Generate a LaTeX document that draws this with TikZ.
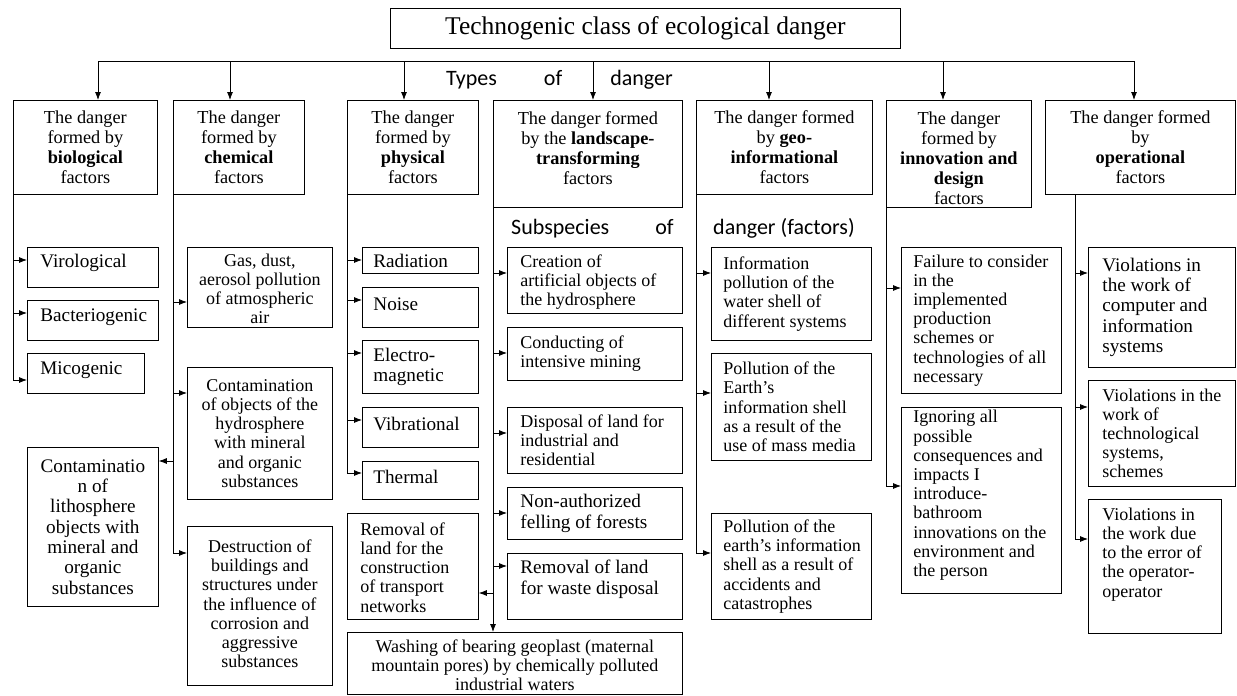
\documentclass[tikz,border=0pt]{standalone}
\usepackage{fontspec}
\setmainfont{Liberation Serif}
\newfontfamily\sansf{Carlito}
\usetikzlibrary{arrows.meta}
\tikzset{
  bx/.style={draw, line width=0.8pt, inner sep=0pt, font=\fontsize{18}{19.2}\selectfont},
  topf/.style={font=\fontsize{18.3}{20}\selectfont},
  bigf/.style={font=\fontsize{19.2}{20.3}\selectfont},
  ln/.style={line width=0.8pt},
  arr/.style={line width=0.8pt, -{Latex[length=8pt,width=6pt]}},
  lbl/.style={inner sep=0pt, font=\sansf\fontsize{22}{24}\selectfont},
}
% [style]{name}{x}{y}{w}{h}{shift down}{content}
\newcommand\bnode[8][]{\node[bx,#1,anchor=north west] (#2) at (#3,#4)
  {\parbox[c][#6pt][c]{#5pt}{\vspace*{2\dimexpr#7pt\relax}#8\par}};}
\newcommand\AlC{\centering}
\newcommand\AlL[1]{\raggedright\leftskip=#1pt\relax}
\begin{document}
\begin{tikzpicture}[x=1pt,y=-1pt]
\useasboundingbox (0,0) rectangle (1237,696);
\fill[white] (0,0) rectangle (1237,696);

% title
\node[bx, minimum width=510pt, minimum height=40pt, anchor=north west,
  font=\fontsize{25.5}{28}\selectfont] (title) at (390,8) {Technogenic class of ecological danger};

% top row
\bnode[topf]{bio}{13}{100}{144}{94}{0}{\AlC The danger\\formed by\\\textbf{biological}\\factors}
\bnode[topf]{chem}{173}{100}{131}{94}{0}{\AlC The danger\\formed by\\\textbf{chemical}\\factors}
\bnode[topf]{phys}{347}{100}{131}{94}{0}{\AlC The danger\\formed by\\\textbf{physical}\\factors}
\bnode[topf]{land}{493}{100}{189}{107}{-5.5}{\AlC The danger formed\\by the \textbf{landscape-}\\\textbf{transforming}\\factors}
\bnode[topf]{geo}{696}{100}{176}{94}{0}{\AlC The danger formed\\by \textbf{geo-}\\\textbf{informational}\\factors}
\bnode[topf]{innov}{886}{100}{145}{107}{4.5}{\AlC The danger\\formed by\\\textbf{innovation and}\\\textbf{design}\\factors}
\bnode[topf]{oper}{1045}{100}{190}{94}{0}{\AlC The danger formed\\by\\\textbf{operational}\\factors}

% labels
\node[lbl, anchor=base west] (types) at (446,85) {Types\hspace*{47pt}of\hspace*{48pt}danger};
\node[lbl, anchor=base west] (sub1) at (511,234) {Subspecies\hspace*{46pt}of};
\node[lbl, anchor=base west] (sub2) at (713,234) {danger (factors)};

% biological
\bnode[bigf]{viro}{27}{247}{131}{40}{-4}{\AlL{13}Virological}
\bnode[bigf]{bact}{27}{300}{131}{40}{-3}{\AlL{13}Bacteriogenic}
\bnode[bigf]{mico}{27}{353}{117}{40}{-3}{\AlL{13}Micogenic}
\bnode[bigf]{litho}{27}{447}{131}{159}{0}{\AlC Contaminatio\\n of\\lithosphere\\objects with\\mineral and\\organic\\substances}

% chemical
\bnode{gas}{187}{247}{145}{80}{1.5}{\AlC Gas, dust,\\aerosol pollution\\of atmospheric\\air}
\bnode{hydro}{187}{367}{145}{132}{0}{\AlC Contamination\\of objects of the\\hydrosphere\\with mineral\\and organic\\substances}
\bnode{destr}{187}{526}{145}{159}{-2}{\AlC Destruction of\\buildings and\\structures under\\the influence of\\corrosion and\\aggressive\\substances}

% physical
\bnode[bigf]{rad}{362}{247}{116}{26}{1}{\AlL{11}Radiation}
\bnode[bigf]{noise}{362}{287}{116}{40}{-3}{\AlL{11}Noise}
\bnode[bigf]{electro}{362}{340}{116}{53}{0}{\AlL{11}Electro-\\magnetic}
\bnode[bigf]{vib}{362}{407}{116}{40}{-3}{\AlL{11}Vibrational}
\bnode[bigf]{therm}{362}{461}{116}{38}{-3}{\AlL{11}Thermal}

% landscape
\bnode{creat}{507}{247}{175}{66}{2}{\AlL{13}Creation of\\artificial objects of\\the hydrosphere}
\bnode{cond}{507}{327}{175}{53}{0}{\AlL{13}Conducting of\\intensive mining}
\bnode{disp}{507}{407}{175}{66}{0}{\AlL{13}Disposal of land for\\industrial and\\residential}
\bnode[bigf]{nonauth}{507}{487}{175}{52}{0}{\AlL{13}Non-authorized\\felling of forests}
\bnode[bigf]{waste}{507}{553}{175}{66}{-7}{\AlL{13}Removal of land\\for waste disposal}
\bnode{trans}{347}{513}{131}{106}{1}{\AlL{13}Removal of\\land for the\\construction\\of transport\\networks}
\bnode{wash}{347}{632}{335}{62}{2}{\AlC Washing of bearing geoplast (maternal\\mountain pores) by chemically polluted\\industrial waters}

% geo-informational
\bnode{info}{711}{247}{160}{93}{0}{\AlL{12}Information\\pollution of the\\water shell of\\different systems}
\bnode{earth}{711}{353}{160}{107}{0}{\AlL{12}Pollution of the\\Earth's\\information shell\\as a result of the\\use of mass media}
\bnode{accid}{711}{513}{160}{106}{0}{\AlL{12}Pollution of the\\earth's information\\shell as a result of\\accidents and\\catastrophes}

% innovation
\bnode{fail}{901}{247}{160}{146}{0}{\AlL{12}Failure to consider\\in the\\implemented\\production\\schemes or\\technologies of all\\necessary}
\bnode{ignor}{901}{407}{160}{186}{-5}{\AlL{12}Ignoring all\\possible\\consequences and\\impacts I\\introduce-\\bathroom\\innovations on the\\environment and\\the person}

% operational
\bnode[bigf]{viocomp}{1088}{247}{147}{120}{0}{\AlL{14}Violations in\\the work of\\computer and\\information\\systems}
\bnode{viotech}{1088}{380}{147}{106}{0}{\AlL{14}Violations in the\\work of\\technological\\systems,\\schemes}
\bnode{vioop}{1088}{499}{133}{134}{-12}{\AlL{14}Violations in\\the work due\\to the error of\\the operator-\\operator}

% bus
\coordinate (d1) at (98,61);
\coordinate (d2) at (230,61);
\coordinate (d3) at (404,61);
\coordinate (d4) at (593,61);
\coordinate (d5) at (769,61);
\coordinate (d6) at (943,61);
\coordinate (d7) at (1134,61);
\draw[ln] (d1) -- (d7);
\draw[arr] (d1) -- (d1 |- bio.north);
\draw[arr] (d2) -- (d2 |- chem.north);
\draw[arr] (d3) -- (d3 |- phys.north);
\draw[arr] (d4) -- (d4 |- land.north);
\draw[arr] (d5) -- (d5 |- geo.north);
\draw[arr] (d6) -- (d6 |- innov.north);
\draw[arr] (d7) -- (d7 |- oper.north);

% trunks
\coordinate (t1) at (bio.south west);
\coordinate (t2) at (chem.south west);
\coordinate (t3) at (phys.south west);
\coordinate (t4) at (land.south west);
\coordinate (t5) at (geo.south west);
\coordinate (t6) at (innov.south west);
\coordinate (t7) at (oper.south -| 1075,0);

% biological branches
\draw[arr] (t1 |- 0,260) -- (viro.west |- 0,260);
\draw[arr] (t1 |- 0,313) -- (bact.west |- 0,313);
\draw[arr] (t1) |- (mico.west |- 0,380);

% chemical branches
\draw[arr] (t2 |- 0,302) -- (gas.west |- 0,302);
\draw[arr] (t2 |- 0,393) -- (hydro.west |- 0,393);
\draw[arr] (t2 |- 0,461) -- (litho.east |- 0,461);
\draw[arr] (t2) |- (destr.west |- 0,553);

% physical branches
\draw[arr] (t3 |- 0,260) -- (rad.west |- 0,260);
\draw[arr] (t3 |- 0,300) -- (noise.west |- 0,300);
\draw[arr] (t3 |- 0,353) -- (electro.west |- 0,353);
\draw[arr] (t3 |- 0,420) -- (vib.west |- 0,420);
\draw[arr] (t3) |- (therm.west |- 0,473);

% landscape branches
\draw[arr] (t4) -- (t4 |- wash.north);
\draw[arr] (t4 |- 0,273) -- (creat.west |- 0,273);
\draw[arr] (t4 |- 0,353) -- (cond.west |- 0,353);
\draw[arr] (t4 |- 0,433) -- (disp.west |- 0,433);
\draw[arr] (t4 |- 0,513) -- (nonauth.west |- 0,513);
\draw[arr] (t4 |- 0,566) -- (waste.west |- 0,566);
\draw[arr] (t4 |- 0,593) -- (trans.east |- 0,593);

% geo branches
\draw[arr] (t5 |- 0,273) -- (info.west |- 0,273);
\draw[arr] (t5 |- 0,393) -- (earth.west |- 0,393);
\draw[arr] (t5) |- (accid.west |- 0,553);

% innovation branches
\draw[arr] (t6 |- 0,288) -- (fail.west |- 0,288);
\draw[arr] (t6) |- (ignor.west |- 0,486);

% operational branches
\draw[arr] (t7 |- 0,273) -- (viocomp.west |- 0,273);
\draw[arr] (t7 |- 0,407) -- (viotech.west |- 0,407);
\draw[arr] (t7) |- (vioop.west |- 0,539);
\end{tikzpicture}
\end{document}
